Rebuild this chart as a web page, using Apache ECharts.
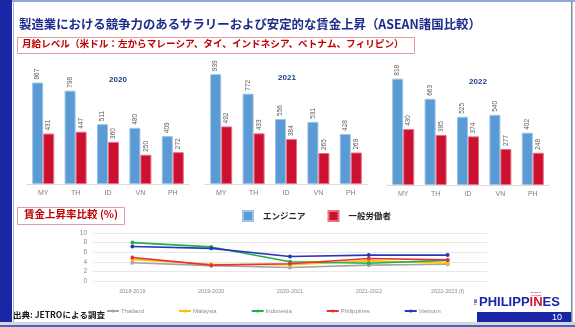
<!DOCTYPE html>
<html><head><meta charset="utf-8">
<script src="https://cdn.jsdelivr.net/npm/echarts@6/dist/echarts.min.js"></script>
<style>html,body{margin:0;padding:0;background:#fff}#c{width:575px;height:327px}</style>
</head><body><div id="c"></div>
<script>
const categories = ['MY','TH','ID','VN','PH'];
const years = ['2020','2021','2022'];
const eng2020 = [867,798,511,480,409];
const wrk2020 = [431,447,360,250,272];
const eng2021 = [939,772,556,531,428];
const wrk2021 = [492,433,384,265,269];
const eng2022 = [818,663,525,540,402];
const wrk2022 = [430,385,374,277,248];
const periods = ['2018-2019','2019-2020','2020-2021','2021-2022','2022-2023 (f)'];
const thailand = [3.8,3.2,2.8,3.3,3.5];
const malaysia = [4.5,3.5,3.4,4.2,3.7];
const indonesia = [8.0,7.1,4.0,3.7,4.3];
const philippines = [4.9,3.3,3.6,4.7,4.4];
const vietnam = [7.2,6.8,5.1,5.4,5.4];
const rateTicks = [0,2,4,6,8,10];

const FONT = '"Noto Sans CJK JP", "Noto Sans", sans-serif';
const engData = [eng2020, eng2021, eng2022];
const wrkData = [wrk2020, wrk2021, wrk2022];
const yMax = [1000, 1000, 900];
const gridLefts = [27, 205, 387];
const tops = [67, 67, 68];

const grids = [], xAxes = [], yAxes = [], series = [];
for (let i = 0; i < 3; i++) {
  grids.push({left: gridLefts[i], top: tops[i], width: 162, height: 117});
  xAxes.push({type: 'category', gridIndex: i, data: categories,
    axisLine: {lineStyle: {color: '#d9d9d9'}}, axisTick: {show: false},
    axisLabel: {color: '#7f7f7f', fontSize: 7, margin: 6, fontFamily: 'Liberation Sans'}});
  yAxes.push({type: 'value', gridIndex: i, min: 0, max: yMax[i], show: false, splitLine: {show: false}});
  const lab = {show: true, position: 'top', rotate: 90, align: 'left', verticalAlign: 'middle',
    distance: 3, fontSize: 6.5, color: '#595959', fontFamily: 'Liberation Sans'};
  series.push({name: 'エンジニア', type: 'bar', xAxisIndex: i, yAxisIndex: i, data: engData[i],
    barWidth: 11, barGap: '0%', itemStyle: {color: '#5b9bd5', borderColor: '#9dc3e6', borderWidth: 1}, label: lab});
  series.push({name: '一般労働者', type: 'bar', xAxisIndex: i, yAxisIndex: i, data: wrkData[i],
    barWidth: 11, barGap: '0%', itemStyle: {color: '#cc1030', borderColor: '#e8707f', borderWidth: 1}, label: lab});
}
// line chart
grids.push({left: 93, top: 233, width: 394, height: 48});
xAxes.push({type: 'category', gridIndex: 3, data: periods, boundaryGap: true,
  axisLine: {show: false}, axisTick: {show: false},
  axisLabel: {color: '#8c8c8c', fontSize: 5.5, margin: 7, fontFamily: 'Liberation Sans'}});
yAxes.push({type: 'value', gridIndex: 3, min: rateTicks[0], max: rateTicks[rateTicks.length-1], interval: 2,
  axisLine: {show: false}, axisTick: {show: false},
  axisLabel: {color: '#8c8c8c', fontSize: 6.5, margin: 6, fontFamily: 'Liberation Sans'},
  splitLine: {lineStyle: {color: '#e8e8e8'}}});
const lineDefs = [['Thailand', thailand, '#a5a5a5'], ['Malaysia', malaysia, '#ffc000'],
  ['Indonesia', indonesia, '#1fb14c'], ['Philippines', philippines, '#e8303a'], ['Vietnam', vietnam, '#2e36b8']];
lineDefs.forEach(d => series.push({name: d[0], type: 'line', xAxisIndex: 3, yAxisIndex: 3, data: d[1],
  symbol: 'circle', symbolSize: 4, color: d[2], lineStyle: {width: 1.6, color: d[2]}, itemStyle: {color: d[2]}}));

const chart = echarts.init(document.getElementById('c'), null, {renderer: 'canvas'});
chart.setOption({
  animation: false,
  grid: grids, xAxis: xAxes, yAxis: yAxes, series: series,
  legend: [
    {data: ['エンジニア', '一般労働者'], left: 237, top: 205, icon: 'rect', itemWidth: 10, itemHeight: 10,
      itemGap: 22, textStyle: {fontSize: 8.5, fontWeight: 'bold', color: '#262626', fontFamily: FONT, padding: [0,0,0,5]}},
    {data: lineDefs.map(d => d[0]), left: 101, top: 303, itemWidth: 12, itemHeight: 4, itemGap: 34,
      textStyle: {fontSize: 6, color: '#8c8c8c', fontFamily: 'Liberation Sans', padding: [0,0,0,-3]}}
  ],
  graphic: [
    {type: 'rect', shape: {x: 0, y: 0, width: 12, height: 322}, style: {fill: '#1b26a6'}},
    {type: 'rect', shape: {x: 12, y: 0, width: 563, height: 2}, style: {fill: '#8fa6d6'}},
    {type: 'rect', shape: {x: 13, y: 2, width: 1, height: 320}, style: {fill: '#aab4cc'}},
    {type: 'rect', shape: {x: 571, y: 2, width: 1.5, height: 320}, style: {fill: '#7a88aa'}},
    {type: 'rect', shape: {x: 0, y: 322, width: 575, height: 3}, style: {fill: '#d3d6dc'}},
    {type: 'rect', shape: {x: 0, y: 325, width: 575, height: 2}, style: {fill: '#4a66b8'}},
    {type: 'text', left: 19, top: 18, style: {text: '製造業における競争力のあるサラリーおよび安定的な賃金上昇（ASEAN諸国比較）',
      fontSize: 12.4, fontWeight: 'bold', fill: '#1f2c8c', fontFamily: FONT}},
    {type: 'rect', shape: {x: 17.5, y: 37.5, width: 397, height: 16}, style: {fill: '#fff', stroke: '#e79a9a', lineWidth: 1}},
    {type: 'text', left: 22, top: 39, style: {text: '月給レベル（米ドル：左からマレーシア、タイ、インドネシア、ベトナム、フィリピン）',
      fontSize: 9.6, fontWeight: 'bold', fill: '#c00000', fontFamily: FONT}},
    {type: 'text', x: 118, y: 80, style: {text: years[0], fontSize: 8, fontWeight: 'bold', fill: '#1f3c88', align: 'center', verticalAlign: 'middle', fontFamily: 'Liberation Sans'}},
    {type: 'text', x: 287, y: 78, style: {text: years[1], fontSize: 8, fontWeight: 'bold', fill: '#1f3c88', align: 'center', verticalAlign: 'middle', fontFamily: 'Liberation Sans'}},
    {type: 'text', x: 478, y: 82, style: {text: years[2], fontSize: 8, fontWeight: 'bold', fill: '#1f3c88', align: 'center', verticalAlign: 'middle', fontFamily: 'Liberation Sans'}},
    {type: 'rect', shape: {x: 17.5, y: 207.5, width: 107, height: 17}, style: {fill: '#fff', stroke: '#e79a9a', lineWidth: 1}},
    {type: 'text', left: 24, top: 209, style: {text: '賃金上昇率比較 (%)', fontSize: 10.5, fontWeight: 'bold', fill: '#c00000', fontFamily: FONT}},
    {type: 'text', left: 13, top: 311, style: {text: '出典: JETROによる調査', fontSize: 8.5, fontWeight: 'bold', fill: '#1a1a1a', fontFamily: FONT}},
    {type: 'rect', shape: {x: 477, y: 312, width: 94, height: 10}, style: {fill: '#1b26a6'}},
    {type: 'text', x: 557, y: 317.5, style: {text: '10', fontSize: 9, fill: '#fff', align: 'center', verticalAlign: 'middle', fontFamily: 'Liberation Sans'}},
    {type: 'text', x: 479, y: 302, style: {text: '{b|PHILIPP}{r|IN}{b|ES}', verticalAlign: 'middle',
      rich: {b: {fontSize: 13, fontWeight: 'bold', fill: '#1b26a6', fontFamily: 'Liberation Sans'},
             r: {fontSize: 13, fontWeight: 'bold', fill: '#d8142c', fontFamily: 'Liberation Sans'}}}},
    {type: 'text', x: 536, y: 294, style: {text: 'MADE IT\nHAPPEN', fontSize: 2.5, fill: '#d8142c', align: 'center', verticalAlign: 'middle', fontFamily: 'Liberation Sans', fontWeight: 'bold'}},
    {type: 'text', x: 476, y: 302, rotation: Math.PI/2, style: {text: 'THE', fontSize: 3, fill: '#1b26a6', align: 'center', verticalAlign: 'middle', fontFamily: 'Liberation Sans', fontWeight: 'bold'}}
  ]
});
</script></body></html>
